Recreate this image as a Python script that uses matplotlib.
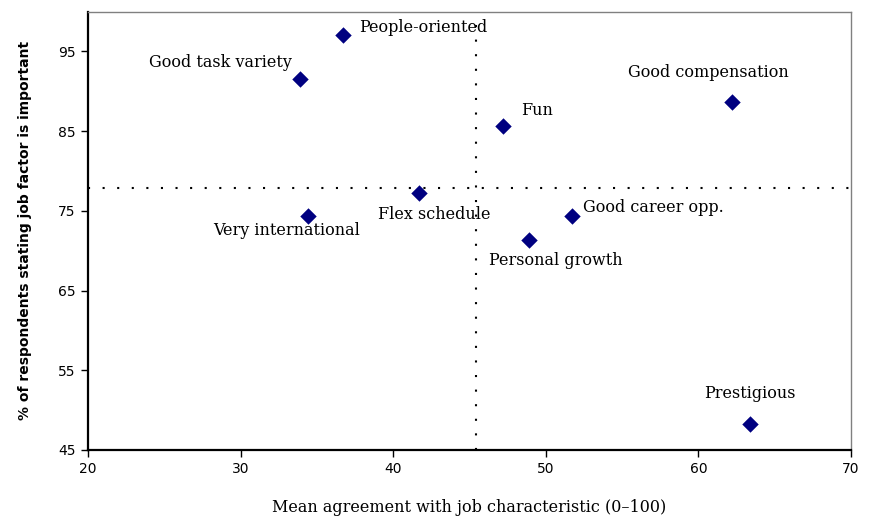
import numpy as np
import matplotlib.pyplot as plt

# data
factors = ["People-oriented", "Good task variety", "Good compensation", "Fun",
           "Flex schedule", "Very international", "Good career opp.",
           "Personal growth", "Prestigious"]
agreement = [36.7, 33.9, 62.2, 47.2, 41.7, 34.4, 51.7, 48.9, 63.4]
importance = [97.1, 91.5, 88.7, 85.7, 77.2, 74.4, 74.4, 71.4, 48.3]

mean_agreement = 45.4
mean_importance = 77.9

# label placement (offset in points, horizontal alignment)
label_offsets = [(12, 5, "left"), (-6, 12, "right"), (-17, 21, "center"),
                 (13, 11, "left"), (11, -15, "center"), (-15, -11, "center"),
                 (8, 6, "left"), (-29, -15, "left"), (0, 22, "center")]

fig = plt.figure(figsize=(8.69, 5.17), dpi=100)
ax = fig.add_axes([0.1013, 0.1296, 0.878, 0.848])

ax.axvline(mean_agreement, color="black", lw=1.5, linestyle=(0, (1, 6)), zorder=1)
ax.axhline(mean_importance, color="black", lw=1.5, linestyle=(0, (1, 6)), zorder=1)

ax.scatter(agreement, importance, marker="D", s=70, color="#000080", zorder=3,
           linewidths=0)

for name, x, y, (dx, dy, ha) in zip(factors, agreement, importance, label_offsets):
    ax.annotate(name, (x, y), xytext=(dx, dy), textcoords="offset points",
                ha=ha, va="center", fontsize=11.5, family="DejaVu Serif")

ax.set_xlim(20, 70)
ax.set_ylim(45, 100)
ax.set_xticks(np.arange(20, 71, 10))
ax.set_yticks(np.arange(45, 96, 10))
ax.tick_params(axis="both", direction="out", length=5, width=1, labelsize=10,
               color="black", pad=4)

for side in ["left", "bottom"]:
    ax.spines[side].set_color("black")
    ax.spines[side].set_linewidth(1.6)
for side in ["top", "right"]:
    ax.spines[side].set_color("#808080")
    ax.spines[side].set_linewidth(1.0)

ax.set_xlabel("Mean agreement with job characteristic (0\u2013100)",
              family="DejaVu Serif", fontsize=11.5, labelpad=16)
ax.set_ylabel("% of respondents stating job factor is important",
              fontsize=10, fontweight="bold", labelpad=19)

fig.savefig("out.png", dpi=100)
